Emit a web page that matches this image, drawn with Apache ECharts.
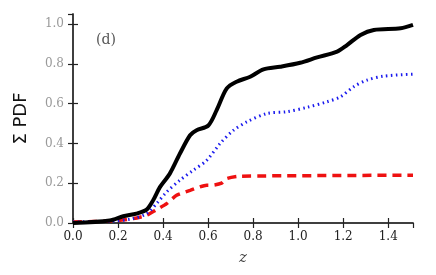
<!DOCTYPE html>
<html>
<head>
<meta charset="utf-8">
<script src="https://cdn.jsdelivr.net/npm/echarts@6/dist/echarts.min.js"></script>
<style>html,body{margin:0;padding:0;background:#fff}#c{width:436px;height:275px}</style>
</head>
<body>
<div id="c"></div>
<script>
const blackZ = [0,0.163,0.223,0.282,0.327,0.356,0.386,0.43,0.475,0.52,0.549,0.601,0.638,0.683,0.727,0.787,0.846,0.92,1.009,1.084,1.173,1.217,1.277,1.336,1.455,1.51];
const blackPDF = [0,0.013,0.034,0.047,0.067,0.114,0.18,0.248,0.349,0.441,0.466,0.49,0.567,0.676,0.71,0.735,0.772,0.785,0.805,0.832,0.861,0.894,0.945,0.97,0.978,0.995];
const blueZ = [0,0.178,0.267,0.327,0.371,0.416,0.475,0.534,0.594,0.653,0.713,0.772,0.861,0.95,1.039,1.128,1.188,1.247,1.306,1.381,1.51];
const bluePDF = [0.005,0.01,0.022,0.047,0.097,0.156,0.215,0.265,0.315,0.399,0.466,0.508,0.55,0.559,0.581,0.609,0.634,0.685,0.718,0.738,0.748];
const redZ = [0,0.178,0.267,0.327,0.371,0.416,0.46,0.52,0.594,0.62,0.66,0.683,0.742,1.51];
const redPDF = [0.005,0.01,0.022,0.039,0.067,0.097,0.139,0.164,0.19,0.19,0.2,0.223,0.235,0.24];
const xTicks = [0.0,0.2,0.4,0.6,0.8,1.0,1.2,1.4];
const yTicks = [0.0,0.2,0.4,0.6,0.8,1.0];

const zip = (a,b)=>a.map((v,i)=>[v,b[i]]);
const chart = echarts.init(document.getElementById('c'), null, {renderer:'canvas'});
const serif = 'DejaVu Serif';
const axLine = {show:true, lineStyle:{color:'#333', width:1.5}};
const tick = {show:true, inside:true, length:5, lineStyle:{color:'#222', width:1.2}};
chart.setOption({
  animation:false,
  backgroundColor:'#fff',
  grid:{left:73, right:23, top:14, bottom:52},
  xAxis:[{
    type:'value', min:0, max:1.51, interval:0.2,
    axisLine:axLine, axisTick:tick, splitLine:{show:false},
    axisLabel:{showMaxLabel:false, fontFamily:serif, fontSize:12, color:'#222', margin:8,
      formatter:v=>xTicks.some(t=>Math.abs(t-v)<1e-6)?v.toFixed(1):''},
    name:'z', nameLocation:'middle', nameGap:28,
    nameTextStyle:{fontFamily:serif, fontStyle:'italic', fontSize:15, color:'#444'}
  },{
    type:'value', position:'top', min:0, max:1.51, interval:0.2,
    axisLine:axLine, axisTick:tick, axisLabel:{show:false}, splitLine:{show:false}
  }],
  yAxis:[{
    type:'value', min:0, max:1.05, interval:0.2,
    axisLine:axLine, axisTick:tick, splitLine:{show:false},
    axisLabel:{showMaxLabel:false, fontFamily:serif, fontSize:12, color:'#999', margin:9,
      formatter:v=>yTicks.some(t=>Math.abs(t-v)<1e-6)?v.toFixed(1):''},
    name:'\u03A3 PDF', nameLocation:'middle', nameGap:43, nameRotate:90,
    nameTextStyle:{fontFamily:'DejaVu Sans', fontSize:18, color:'#111'}
  },{
    type:'value', position:'right', min:0, max:1.05, interval:0.2,
    axisLine:axLine, axisTick:tick, axisLabel:{show:false}, splitLine:{show:false}
  }],
  graphic:[{type:'text', left:96, top:33, style:{text:'(d)', font:'14px "DejaVu Serif"', fill:'#555'}}],
  series:[
    {type:'line', data:zip(redZ,redPDF), smooth:0.2, showSymbol:false,
     lineStyle:{color:'#ee1111', width:3.5, type:[9,6]}},
    {type:'line', data:zip(blueZ,bluePDF), smooth:0.3, showSymbol:false,
     lineStyle:{color:'#1a1aee', width:3, type:[1.5,3.5]}},
    {type:'line', data:zip(blackZ,blackPDF), smooth:0.3, showSymbol:false,
     lineStyle:{color:'#000', width:4}}
  ]
});
</script>
</body>
</html>
